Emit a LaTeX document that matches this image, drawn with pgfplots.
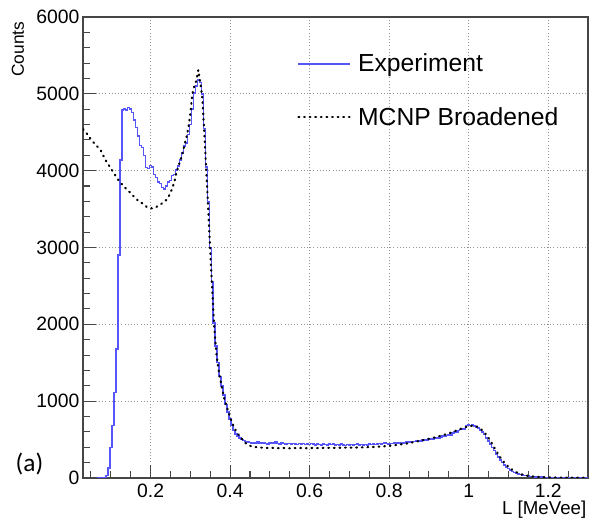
\documentclass[border=0pt]{standalone}
\usepackage{fontspec}
\setmainfont{Liberation Sans}
\newfontfamily\panelfont{Carlito}
\usepackage{pgfplots}
\usepackage{pgfplotstable}
\pgfplotsset{compat=1.18}
\definecolor{expblue}{RGB}{85,85,250}
\definecolor{framegray}{RGB}{70,70,70}

% experiment histogram, bin centres (0.005 MeVee bins)
\pgfplotstableread{
x y
0.065 0
0.070 0
0.075 0
0.080 0
0.085 8
0.090 35
0.095 130
0.100 400
0.105 680
0.110 1110
0.115 1680
0.120 2900
0.125 4140
0.130 4790
0.135 4800
0.140 4790
0.145 4820
0.150 4800
0.155 4760
0.160 4660
0.165 4560
0.170 4450
0.175 4330
0.180 4300
0.185 4200
0.190 4040
0.195 4030
0.200 4070
0.205 4050
0.210 3950
0.215 3910
0.220 3850
0.225 3830
0.230 3780
0.235 3760
0.240 3800
0.245 3850
0.250 3870
0.255 3940
0.260 3950
0.265 4010
0.270 4060
0.275 4140
0.280 4230
0.285 4320
0.290 4360
0.295 4470
0.300 4600
0.305 4800
0.310 5010
0.315 5100
0.320 5180
0.325 5150
0.330 5000
0.335 4550
0.340 4050
0.345 3600
0.350 3000
0.355 2550
0.360 2020
0.365 1720
0.370 1500
0.375 1320
0.380 1200
0.385 1080
0.390 960
0.395 860
0.400 770
0.405 680
0.410 620
0.415 575
0.420 545
0.425 520
0.430 500
0.435 485
0.440 475
0.445 468
0.450 460
0.455 450
0.460 462
0.465 455
0.470 470
0.475 458
0.480 448
0.485 460
0.490 452
0.495 445
0.500 458
0.505 447
0.510 455
0.515 470
0.520 450
0.525 443
0.530 455
0.535 448
0.540 440
0.545 452
0.550 446
0.555 438
0.560 450
0.565 442
0.570 436
0.575 447
0.580 440
0.585 452
0.590 437
0.595 444
0.600 435
0.605 446
0.610 440
0.615 432
0.620 445
0.625 438
0.630 430
0.635 442
0.640 436
0.645 428
0.650 440
0.655 433
0.660 444
0.665 430
0.670 437
0.675 428
0.680 440
0.685 432
0.690 425
0.695 436
0.700 430
0.705 438
0.710 427
0.715 434
0.720 440
0.725 430
0.730 436
0.735 428
0.740 438
0.745 432
0.750 440
0.755 433
0.760 445
0.765 436
0.770 442
0.775 450
0.780 440
0.785 448
0.790 455
0.795 446
0.800 445
0.805 452
0.810 448
0.815 455
0.820 450
0.825 458
0.830 462
0.835 456
0.840 465
0.845 470
0.850 463
0.855 472
0.860 478
0.865 474
0.870 482
0.875 488
0.880 484
0.885 492
0.890 498
0.895 494
0.900 505
0.905 512
0.910 508
0.915 520
0.920 528
0.925 522
0.930 535
0.935 545
0.940 540
0.945 555
0.950 565
0.955 560
0.960 585
0.965 600
0.970 595
0.975 615
0.980 630
0.985 640
0.990 635
0.995 680
1.000 690
1.005 682
1.010 688
1.015 678
1.020 665
1.025 650
1.030 625
1.035 598
1.040 565
1.045 520
1.050 480
1.055 440
1.060 400
1.065 355
1.070 310
1.075 275
1.080 235
1.085 200
1.090 172
1.095 145
1.100 122
1.105 104
1.110 88
1.115 75
1.120 64
1.125 55
1.130 47
1.135 40
1.140 34
1.145 30
1.150 26
1.155 22
1.160 19
1.165 16
1.170 14
1.175 13
1.180 11
1.185 10
1.190 9
1.195 8
1.200 8
1.210 7
1.220 6
1.230 5
1.240 5
1.250 4
1.260 4
1.270 3
1.280 3
1.290 3
1.300 2
}\expdata

% broadened MCNP simulation
\pgfplotstableread{
x y
0.030 4540
0.035 4510
0.040 4480
0.045 4440
0.050 4410
0.055 4380
0.060 4340
0.065 4320
0.070 4290
0.075 4260
0.080 4210
0.085 4150
0.090 4110
0.095 4070
0.100 4030
0.105 3990
0.110 3950
0.115 3910
0.120 3870
0.125 3840
0.130 3810
0.135 3780
0.140 3760
0.145 3730
0.150 3710
0.155 3680
0.160 3650
0.165 3630
0.170 3600
0.175 3590
0.180 3570
0.185 3550
0.190 3530
0.195 3520
0.200 3510
0.205 3510
0.210 3520
0.215 3530
0.220 3545
0.225 3560
0.230 3580
0.235 3600
0.240 3620
0.245 3660
0.250 3710
0.255 3780
0.260 3860
0.265 3970
0.270 4060
0.275 4130
0.280 4220
0.285 4330
0.290 4430
0.295 4560
0.300 4740
0.305 5000
0.310 5100
0.315 5170
0.320 5310
0.325 5150
0.330 4950
0.335 4500
0.340 4000
0.345 3500
0.350 2950
0.355 2450
0.360 1970
0.365 1640
0.370 1440
0.375 1290
0.380 1160
0.385 1040
0.390 950
0.395 870
0.400 790
0.405 720
0.410 660
0.415 610
0.420 570
0.425 540
0.430 505
0.435 475
0.440 450
0.445 430
0.450 420
0.455 410
0.460 405
0.470 400
0.480 395
0.490 392
0.500 390
0.510 393
0.520 388
0.530 392
0.540 390
0.550 386
0.560 390
0.570 388
0.580 391
0.590 387
0.600 390
0.610 392
0.620 389
0.630 392
0.640 390
0.650 393
0.660 391
0.670 394
0.680 393
0.690 396
0.700 395
0.710 397
0.720 396
0.730 399
0.740 400
0.750 402
0.760 404
0.770 407
0.780 410
0.790 414
0.800 418
0.810 424
0.820 430
0.830 438
0.840 445
0.850 455
0.860 465
0.870 475
0.880 487
0.890 498
0.900 510
0.910 522
0.920 535
0.930 550
0.940 565
0.950 580
0.960 600
0.970 620
0.980 640
0.990 660
1.000 672
1.010 680
1.020 670
1.030 640
1.040 590
1.050 520
1.060 435
1.070 345
1.080 265
1.090 195
1.100 145
1.110 105
1.120 75
1.130 52
1.140 37
1.150 27
1.160 20
1.180 12
1.200 8
1.220 6
1.250 4
1.280 3
1.300 2
}\mcnpdata

\begin{document}
\begin{tikzpicture}
\useasboundingbox (-62.25pt,-36.75pt) rectangle (379.5pt,358.5pt);
\begin{axis}[
    at={(0,0)}, anchor=south west,
    scale only axis,
    width=378.75pt, height=345.75pt,
    clip mode=individual,
    xmin=0.03, xmax=1.3,
    ymin=0, ymax=6000,
    xtick={0.2,0.4,0.6,0.8,1,1.2},
    minor xtick={0.05,0.1,0.15,0.25,0.3,0.35,0.45,0.5,0.55,0.65,0.7,0.75,0.85,0.9,0.95,1.05,1.1,1.15,1.25},
    ytick={0,1000,2000,3000,4000,5000,6000},
    minor y tick num=4,
    tick align=inside,
    tick pos=left,
    major tick length=9.75pt,
    minor tick length=5pt,
    tick style={framegray, line width=0.8pt},
    axis line style={framegray, line width=0.8pt},
    grid=major,
    grid style={dotted, gray!85, line width=0.5pt},
    /pgf/number format/assume math mode=true,
    /pgf/number format/1000 sep={},
    scaled ticks=false,
    tick label style={font=\fontsize{14.5}{16}\selectfont, inner sep=0pt},
    xticklabel style={yshift=-4.5pt},
    yticklabel style={xshift=-2.5pt},
    xlabel={L [MeVee]},
    xlabel style={at={(axis description cs:0.997,-0.069)}, anchor=east, inner sep=0pt, font=\fontsize{14}{16}\selectfont},
    legend cell align=left,
    legend image code/.code={\draw[#1] (0pt,0pt) -- (39pt,0pt);},
    legend style={at={(axis description cs:0.424,0.926)}, anchor=north west,
        draw=none, fill=none, inner sep=0pt, row sep=21pt,
        /tikz/every odd column/.append style={column sep=3pt},
        font=\fontsize{18.5}{20}\selectfont},
]
\addplot[color=expblue, line width=1.1pt, const plot mark mid] table {\expdata};
\addlegendentry{Experiment}
\addplot[color=black, line width=1.6pt, line cap=round, dash pattern=on 0.6pt off 3.6pt] table {\mcnpdata};
\addlegendentry{MCNP Broadened}
\node[rotate=90, anchor=east, inner sep=0pt, font=\fontsize{13}{15}\selectfont] at (axis description cs:-0.129,0.990) {Counts};
\node[anchor=center, font=\panelfont\fontsize{19}{21}\selectfont] at (axis description cs:-0.106,0.031) {(a)};
\end{axis}
\end{tikzpicture}
\end{document}
